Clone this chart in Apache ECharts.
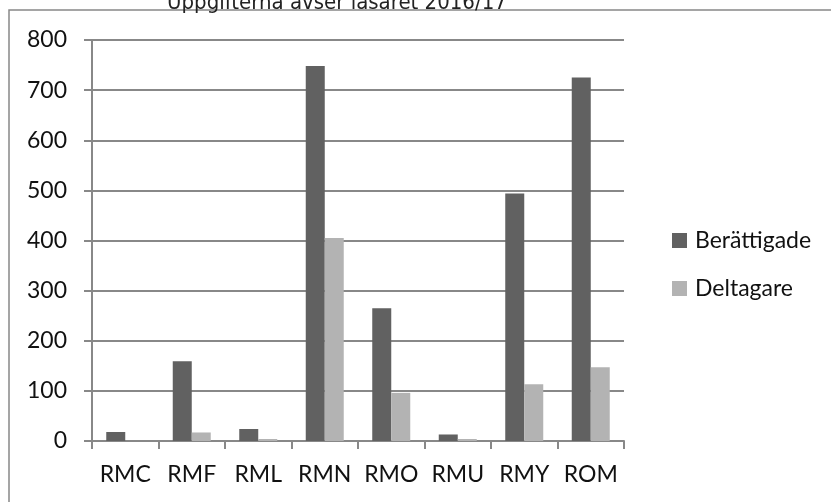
<!DOCTYPE html>
<html>
<head>
<meta charset="utf-8">
<script src="https://cdn.jsdelivr.net/npm/echarts@6/dist/echarts.min.js"></script>
<style>
  html, body { margin: 0; padding: 0; background: #fff; }
  #main { width: 831px; height: 502px; }
</style>
</head>
<body>
<div id="main"></div>
<script>
// skolor och värden
var categories = ['RMC', 'RMF', 'RML', 'RMN', 'RMO', 'RMU', 'RMY', 'ROM'];
var berattigade = [18, 159, 24, 748, 265, 13, 494, 725];
var deltagare = [0, 17, 4, 405, 96, 4, 113, 147];
var yTicks = [0, 100, 200, 300, 400, 500, 600, 700, 800];

var myChart = echarts.init(document.getElementById('main'));
var labelFont = 'Lato, "Open Sans", sans-serif';

myChart.setOption({
    animation: false,
    backgroundColor: '#fff',
    title: {
        text: 'Uppgifterna avser läsåret 2016/17',
        left: 162,
        top: -13,
        textStyle: {
            fontFamily: '"Liberation Sans Narrow", "DejaVu Sans Condensed", sans-serif',
            fontWeight: 'normal',
            fontSize: 22,
            color: '#222'
        }
    },
    graphic: [{
        type: 'rect',
        shape: { x: 9, y: 10, width: 900, height: 600 },
        style: { fill: null, stroke: '#888', lineWidth: 1.5 },
        silent: true,
        z: -10
    }],
    legend: {
        orient: 'vertical',
        left: 667,
        top: 224,
        itemWidth: 15,
        itemHeight: 15,
        itemGap: 25,
        itemStyle: { borderWidth: 0 },
        icon: 'rect',
        textStyle: { fontFamily: labelFont, fontSize: 23, color: '#111', padding: [0, 0, 0, 3] },
        data: ['Berättigade', 'Deltagare']
    },
    grid: {
        left: 92,
        top: 40,
        width: 532,
        height: 401
    },
    xAxis: {
        type: 'category',
        data: categories,
        axisLine: { lineStyle: { color: '#888', width: 2 } },
        axisTick: { show: true, length: 8, lineStyle: { color: '#888', width: 2 } },
        axisLabel: { interval: 0, fontFamily: labelFont, fontSize: 23, color: '#111', margin: 22 }
    },
    yAxis: {
        type: 'value',
        min: yTicks[0],
        max: yTicks[yTicks.length - 1],
        interval: 100,
        axisLine: { show: true, lineStyle: { color: '#888', width: 2 } },
        axisTick: { show: true, length: 8, lineStyle: { color: '#888', width: 2 } },
        splitLine: { lineStyle: { color: '#888', width: 2 } },
        axisLabel: { fontFamily: labelFont, fontSize: 23, color: '#111', margin: 25 }
    },
    series: [{
        name: 'Berättigade',
        type: 'bar',
        data: berattigade,
        barWidth: 19,
        barGap: '0%',
        itemStyle: { color: '#616161' }
    }, {
        name: 'Deltagare',
        type: 'bar',
        data: deltagare,
        barWidth: 19,
        itemStyle: { color: '#b3b3b3' }
    }]
});
</script>
</body>
</html>
